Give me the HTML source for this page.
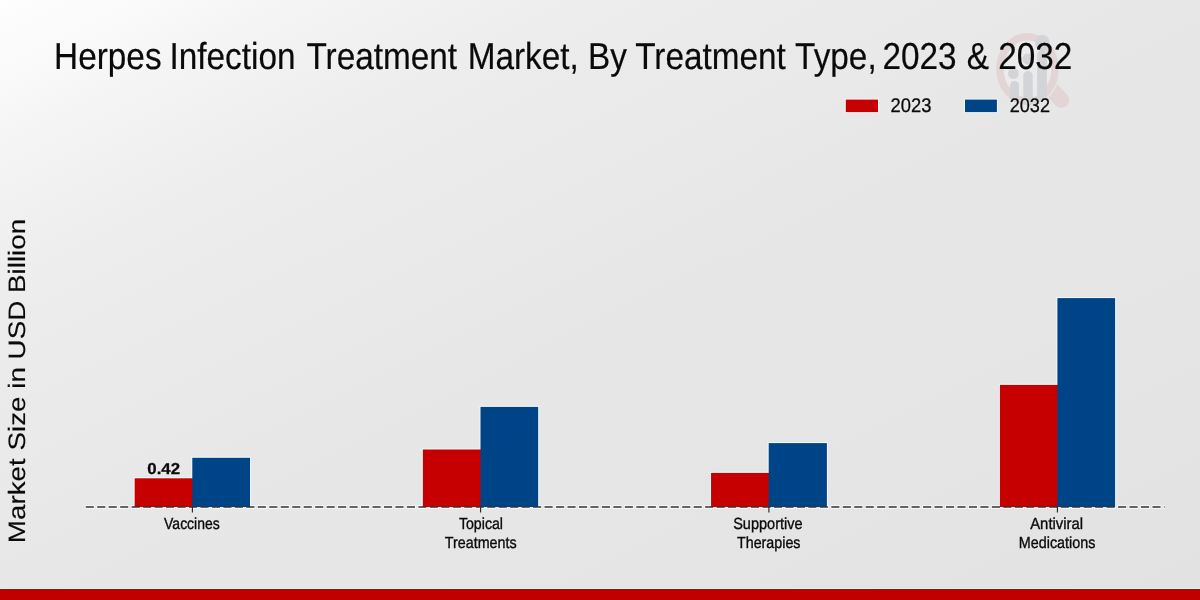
<!DOCTYPE html>
<html><head><meta charset="utf-8"><title>Herpes Infection Treatment Market</title>
<style>
html,body{margin:0;padding:0;}
body{width:1200px;height:600px;overflow:hidden;position:relative;font-family:"Liberation Sans",sans-serif;color:#0a0a0a;
background:linear-gradient(to bottom right,#fefefe 0%,#f8f8f8 8.5%,#f3f3f3 14%,#f0f0f0 19.5%,#ececec 27%,#ebebeb 30.6%,#e9e9e9 42%,#e7e7e7 49.5%,#e5e5e5 73%,#e2e2e2 100%);}
.t{position:absolute;left:0;top:0;white-space:nowrap;text-rendering:geometricPrecision;opacity:0.999;-webkit-text-stroke:0.22px #0a0a0a;text-shadow:0 0 1.2px rgba(255,255,255,0.9);transform-origin:0 0;display:block;}
.w{position:relative;}
#strip{position:absolute;left:0;top:589px;width:1200px;height:11px;background:#c00000;}
#stripline{position:absolute;left:0;top:588px;width:1200px;height:1px;background:#eefbfa;}
svg{position:absolute;left:0;top:0;}
</style></head><body>
<svg id="wm" width="1200" height="600" viewBox="0 0 1200 600">
<defs>
<clipPath id="wc"><ellipse cx="1027.5" cy="69" rx="31.2" ry="36"/></clipPath>
<mask id="hm" maskUnits="userSpaceOnUse" x="900" y="0" width="300" height="200"><rect x="900" y="0" width="300" height="200" fill="#fff"/><ellipse cx="1027.5" cy="69" rx="32.6" ry="37.4" fill="#000"/></mask>
</defs>
<ellipse cx="1027.5" cy="69" rx="27.5" ry="32.3" fill="#ffffff" fill-opacity="0.16" stroke="#e3d4d6" stroke-width="7.4"/>
<g mask="url(#hm)"><line x1="1045" y1="82.7" x2="1061.4" y2="100.1" stroke="#e3d4d6" stroke-width="15.6" stroke-linecap="round"/></g>
<g fill="#d3d4d7" clip-path="url(#wc)">
<rect x="1010" y="81" width="9" height="40" rx="4.5"/>
<rect x="1023.3" y="71" width="9.4" height="50" rx="4.7"/>
<rect x="1037.2" y="50" width="9.7" height="70" rx="4.8"/>
</g>
<polyline points="1013.3,73.3 1027.4,58.7 1042.3,42.7" fill="none" stroke="#f1f1f1" stroke-width="1.3"/>
<g fill="#d3d4d7">
<ellipse cx="1013.3" cy="73.4" rx="5.3" ry="5.7"/>
<ellipse cx="1027.4" cy="58.9" rx="5" ry="5.5"/>
<ellipse cx="1042.3" cy="42.9" rx="7.3" ry="8.2"/>
</g>
</svg>
<svg id="chart" width="1200" height="600" viewBox="0 0 1200 600">
<line x1="84.9" y1="507.05" x2="1165" y2="507.05" stroke="#ffffff" stroke-opacity="0.7" stroke-width="3.7" stroke-dasharray="9.8 1.67"/><g><rect x="133.55" y="477.20" width="59.85" height="29.80" fill="#f6fbfb" fill-opacity="0.75"/><rect x="191.20" y="456.70" width="59.90" height="50.30" fill="#f6fbfb" fill-opacity="0.75"/><rect x="421.75" y="448.40" width="59.85" height="58.60" fill="#f6fbfb" fill-opacity="0.75"/><rect x="479.40" y="405.80" width="59.85" height="101.20" fill="#f6fbfb" fill-opacity="0.75"/><rect x="709.95" y="471.80" width="59.85" height="35.20" fill="#f6fbfb" fill-opacity="0.75"/><rect x="767.60" y="442.00" width="60.40" height="65.00" fill="#f6fbfb" fill-opacity="0.75"/><rect x="998.80" y="383.80" width="59.70" height="123.20" fill="#f6fbfb" fill-opacity="0.75"/><rect x="1056.30" y="297.00" width="59.90" height="210.00" fill="#f6fbfb" fill-opacity="0.75"/></g><g><rect x="134.65" y="478.3" width="58.65" height="28.70" fill="#c60000"/><rect x="192.3" y="457.8" width="57.70" height="49.20" fill="#004488"/><rect x="422.85" y="449.5" width="58.65" height="57.50" fill="#c60000"/><rect x="480.5" y="406.9" width="57.65" height="100.10" fill="#004488"/><rect x="711.05" y="472.9" width="58.65" height="34.10" fill="#c60000"/><rect x="768.7" y="443.1" width="58.20" height="63.90" fill="#004488"/><rect x="999.9" y="384.9" width="58.50" height="122.10" fill="#c60000"/><rect x="1057.4" y="298.1" width="57.70" height="208.90" fill="#004488"/></g>
<line x1="85.75" y1="507.05" x2="1164.6" y2="507.05" stroke="#333333" stroke-width="1.55" stroke-dasharray="8.1 3.37"/>
<line x1="192.4" y1="507" x2="192.4" y2="512.5" stroke="#222" stroke-width="1.1"/><line x1="480.6" y1="507" x2="480.6" y2="512.5" stroke="#222" stroke-width="1.1"/><line x1="768.9" y1="507" x2="768.9" y2="512.5" stroke="#222" stroke-width="1.1"/><line x1="1057.4" y1="507" x2="1057.4" y2="512.5" stroke="#222" stroke-width="1.1"/>
<rect x="844.8" y="98.6" width="34.2" height="14.5" fill="#f6fbfb" fill-opacity="0.7"/><rect x="964" y="98.6" width="33.9" height="14.5" fill="#f6fbfb" fill-opacity="0.7"/><rect x="845.8" y="99.6" width="32.2" height="12.5" fill="#c60000"/>
<rect x="965" y="99.6" width="31.9" height="12.5" fill="#004488"/>
</svg>
<span class="t" id="title" style="font-size:37.56px;line-height:37.56px;transform:translate(54.13px,37.94px) rotate(0.02deg) scale(0.8878,1);"><span class="w" style="left:0.00px">Herpes</span> <span class="w" style="left:-1.58px">Infection</span> <span class="w" style="left:1.01px">Treatment</span> <span class="w" style="left:2.48px">Market,</span> <span class="w" style="left:2.25px">By</span> <span class="w" style="left:1.91px">Treatment</span> <span class="w" style="left:2.59px">Type,</span> <span class="w" style="left:-1.35px">2023</span> <span class="w" style="left:-0.45px">&amp;</span> <span class="w" style="left:-0.45px">2032</span></span><span class="t" id="leg1" style="font-size:19.75px;line-height:19.75px;transform:translate(890.50px,96.80px) rotate(0.02deg) scale(0.9300,1);-webkit-text-stroke-width:0.3px;">2023</span><span class="t" id="leg2" style="font-size:19.75px;line-height:19.75px;transform:translate(1009.76px,96.80px) rotate(0.02deg) scale(0.9158,1);-webkit-text-stroke-width:0.3px;">2032</span><span class="t" id="val" style="font-size:15.80px;line-height:15.80px;transform:translate(147.33px,461.80px) rotate(0.02deg) scale(1.0642,1);font-weight:bold;-webkit-text-stroke-width:0.3px;">0.42</span><span class="t" id="ylab" style="font-size:23.74px;line-height:23.74px;transform:translate(6.90px,543.20px) rotate(-90.02deg) scale(1.1710,1);-webkit-text-stroke-width:0.15px;">Market Size in USD Billion</span><span class="t" id="x1" style="font-size:16.10px;line-height:16.10px;transform:translate(164.09px,516.00px) rotate(0.02deg) scale(0.8678,1);-webkit-text-stroke-width:0.38px;">Vaccines</span><span class="t" id="x2a" style="font-size:16.10px;line-height:16.10px;transform:translate(458.88px,516.00px) rotate(0.02deg) scale(0.8813,1);-webkit-text-stroke-width:0.38px;">Topical</span><span class="t" id="x2b" style="font-size:16.10px;line-height:16.10px;transform:translate(444.79px,535.00px) rotate(0.02deg) scale(0.8887,1);-webkit-text-stroke-width:0.38px;">Treatments</span><span class="t" id="x3a" style="font-size:16.10px;line-height:16.10px;transform:translate(733.20px,516.00px) rotate(0.02deg) scale(0.9014,1);-webkit-text-stroke-width:0.38px;">Supportive</span><span class="t" id="x3b" style="font-size:16.10px;line-height:16.10px;transform:translate(736.96px,535.00px) rotate(0.02deg) scale(0.8876,1);-webkit-text-stroke-width:0.38px;">Therapies</span><span class="t" id="x4a" style="font-size:16.10px;line-height:16.10px;transform:translate(1030.20px,516.00px) rotate(0.02deg) scale(0.9243,1);-webkit-text-stroke-width:0.38px;">Antiviral</span><span class="t" id="x4b" style="font-size:16.10px;line-height:16.10px;transform:translate(1018.82px,535.00px) rotate(0.02deg) scale(0.8918,1);-webkit-text-stroke-width:0.38px;">Medications</span>
<div id="stripline"></div><div id="strip"></div>
</body></html>
